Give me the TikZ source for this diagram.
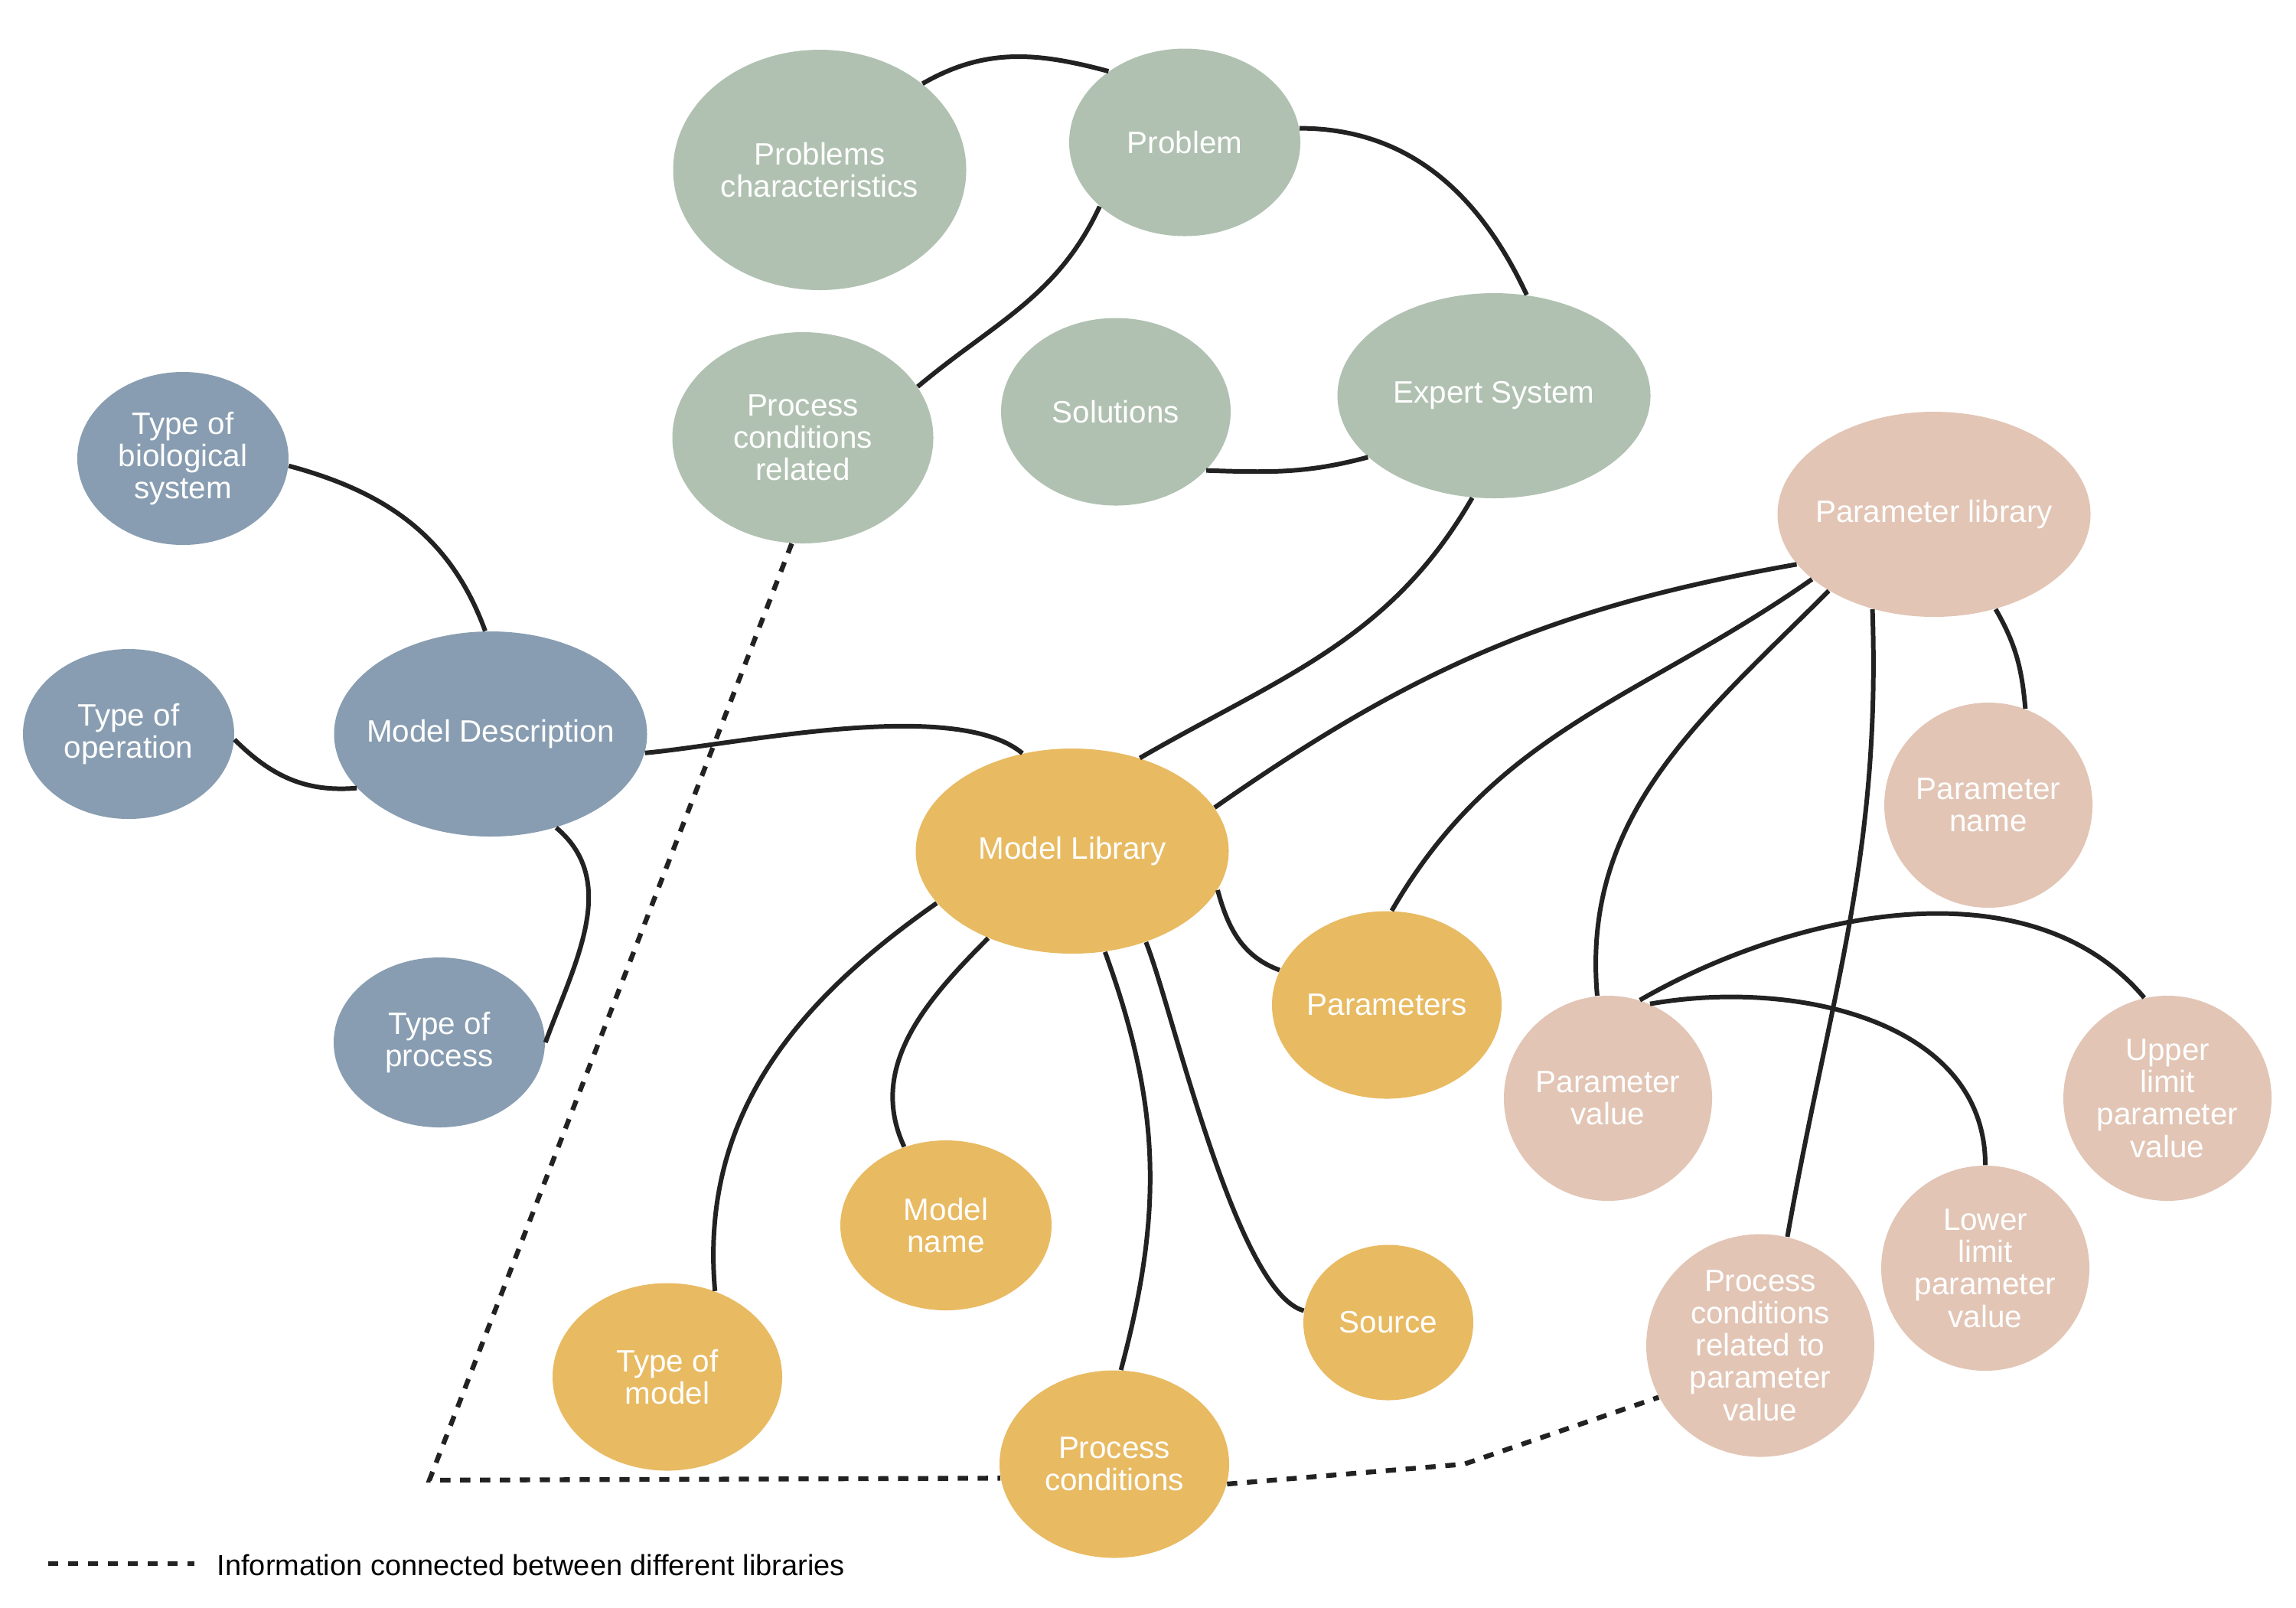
\documentclass[tikz,border=0pt]{standalone}
\usepackage{fontspec}
\setmainfont{Liberation Sans}
\usepackage{tikz}
\usetikzlibrary{positioning,shapes.geometric}
\definecolor{sage300} {HTML}{B0C1B1}
\definecolor{slate400}{HTML}{889DB1}
\definecolor{gold400} {HTML}{E8BA62}
\definecolor{rose200} {HTML}{E2C5B5}
\definecolor{ink900}  {HTML}{222222}
\tikzset{
  bubg/.style ={ellipse, fill=sage300, inner xsep=-6pt, inner ysep=0pt,
                align=center, text=white, font=\fontsize{11.5}{12}\selectfont},
  bubb/.style ={ellipse, fill=slate400, inner xsep=-6pt, inner ysep=0pt,
                align=center, text=white, font=\fontsize{11.5}{12}\selectfont},
  buby/.style ={ellipse, fill=gold400, inner xsep=-6pt, inner ysep=0pt,
                align=center, text=white, font=\fontsize{11.5}{12}\selectfont},
  bubp/.style ={ellipse, fill=rose200, inner xsep=-6pt, inner ysep=0pt,
                align=center, text=white, font=\fontsize{11.5}{12}\selectfont},
  lnk/.style  ={draw=ink900, line width=1.7pt},
  dlnk/.style ={draw=ink900, line width=1.8pt, dash pattern=on 3.8pt off 3.6pt},
  legend/.style={font=\fontsize{10.8}{12}\selectfont, text=black, inner sep=0pt}
}

\begin{document}
\begin{tikzpicture}
\useasboundingbox (0,0) rectangle (30,-21);
% expert system side
\node[bubg, minimum width=3.83cm, minimum height=3.14cm] (probchar) at (10.71,-2.22)
  {Problems\\characteristics};
\node[bubg, minimum width=3.02cm, minimum height=2.45cm] (problem) at (15.48,-1.86)
  {Problem};
\node[bubg, minimum width=3.41cm, minimum height=2.76cm] (pcrel) at (10.49,-5.72)
  {Process\\conditions\\related};
\node[bubg, minimum width=3.00cm, minimum height=2.45cm] (solutions) at (14.58,-5.38)
  {Solutions};
\node[bubg, minimum width=4.09cm, minimum height=2.68cm] (expert) at (19.52,-5.17)
  {Expert System};
% model description
\node[bubb, minimum width=2.76cm, minimum height=2.26cm] (typebio) at (2.39,-5.99)
  {Type of\\biological\\system};
\node[bubb, minimum width=2.76cm, minimum height=2.22cm] (typeop) at (1.68,-9.59)
  {Type of\\operation};
\node[bubb, minimum width=4.09cm, minimum height=2.68cm] (moddesc) at (6.41,-9.59)
  {Model Description};
\node[bubb, minimum width=2.76cm, minimum height=2.22cm] (typeproc) at (5.74,-13.62)
  {Type of\\process};
% model library
\node[buby, minimum width=4.09cm, minimum height=2.68cm] (modlib) at (14.01,-11.12)
  {Model Library};
\node[buby, minimum width=3.00cm, minimum height=2.45cm] (params) at (18.12,-13.13)
  {Parameters};
\node[buby, minimum width=2.76cm, minimum height=2.22cm] (modname) at (12.36,-16.01)
  {Model\\name};
\node[buby, minimum width=3.00cm, minimum height=2.45cm] (typemod) at (8.72,-17.99)
  {Type of\\model};
\node[buby, minimum width=2.22cm, minimum height=2.03cm] (source) at (18.14,-17.28)
  {Source};
\node[buby, minimum width=3.00cm, minimum height=2.45cm] (pcond) at (14.56,-19.13)
  {Process\\conditions};
% parameter library
\node[bubp, minimum width=4.09cm, minimum height=2.68cm] (parlib) at (25.27,-6.72)
  {Parameter library};
\node[bubp, minimum width=2.72cm, minimum height=2.68cm] (parname) at (25.98,-10.52)
  {Parameter\\name};
\node[bubp, minimum width=2.72cm, minimum height=2.68cm] (parval) at (21.01,-14.35)
  {Parameter\\value};
\node[bubp, minimum width=2.72cm, minimum height=2.68cm] (upper) at (28.32,-14.35)
  {Upper\\limit\\parameter\\value};
\node[bubp, minimum width=2.72cm, minimum height=2.68cm] (lower) at (25.94,-16.57)
  {Lower\\limit\\parameter\\value};
\node[bubp, minimum width=2.98cm, minimum height=2.91cm] (pcpar) at (23.00,-17.58)
  {Process\\conditions\\related to\\parameter\\value};

% links
\draw[lnk] (probchar.40) to[out=30,in=165] (problem.137);
\draw[lnk] (problem.217) to[out=245,in=40] (pcrel.24);
\draw[lnk] (problem.7) to[out=0,in=115] (expert.72);
\draw[lnk] (solutions.-33) to[out=-2,in=195] (expert.206);
\draw[lnk] (expert.258) to[out=240,in=30] (modlib.54);
\draw[lnk] (typebio.-4) to[out=-15,in=110] (moddesc.93);
\draw[lnk] (typeop.-3) to[out=-45,in=185] (moddesc.202);
\draw[lnk] (moddesc.-55) to[out=-40,in=70] (typeproc.0);
\draw[lnk] (moddesc.-7) to[out=5,in=140,looseness=0.6] (modlib.117);
\draw[lnk] (modlib.201) to[out=215,in=95] (typemod.61);
\draw[lnk] (modlib.226) to[out=225,in=115] (modname.118);
\draw[lnk] (modlib.-72) to[out=-70,in=75] (pcond.86);
\draw[lnk] (modlib.-51) to[out=-68,in=165,looseness=0.45] (source.172);
\draw[lnk] (modlib.-15) to[out=-75,in=160] (params.162);
\draw[lnk] (parlib.200) to[out=190,in=35] (modlib.17);
\draw[lnk] (parlib.208) to[out=215,in=60] (params.87);
\draw[lnk] (parlib.216) to[out=225,in=95] (parval.96);
\draw[lnk] (parlib.237) to[out=-88,in=80] (pcpar.76);
\draw[lnk] (parlib.-57) to[out=-60,in=95] (parname.69);
\draw[lnk] (parval.72) to[out=30,in=130,looseness=0.9] (upper.103);
\draw[lnk] (parval.66) to[out=10,in=90] (lower.90);

% links between libraries
\coordinate (dcorner) at (5.61,-19.34);
\coordinate (dbend) at (19.13,-19.13);
\draw[dlnk] (pcrel.264) -- (dcorner) -- (pcond.187);
\draw[dlnk] (pcond.-10) -- (dbend) -- (pcpar.207);

% legend
\coordinate (lega) at (0.63,-20.43);
\coordinate (legb) at (2.54,-20.43);
\draw[dlnk] (lega) -- (legb);
\node[legend, anchor=west] (legtxt) at (2.83,-20.45)
  {Information connected between different libraries};
\end{tikzpicture}
\end{document}
